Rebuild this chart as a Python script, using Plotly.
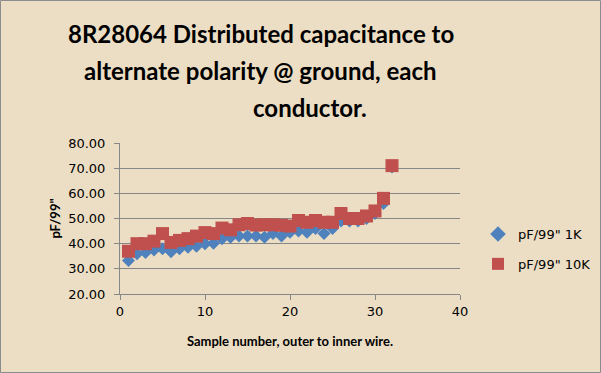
import plotly.graph_objects as go

samples = list(range(1, 33))
pf_1k = [33.3, 36, 36.5, 37.5, 38, 36.8, 38, 38.6, 39, 40, 40.2, 42, 42.5, 43, 43, 43,
         42.5, 44, 43, 44.5, 45, 44.5, 46, 44, 46, 49, 49, 49, 50, 52, 56, 70.5]
pf_10k = [37, 40, 40, 41, 44, 40.5, 41.3, 42, 43, 44.4, 44, 46.2, 45.5, 47.5, 48, 47.4,
          47.5, 47.5, 47.3, 47, 49.2, 48.5, 49.2, 48.5, 48.5, 52, 50, 50, 51, 53, 58, 71]
x_ticks = [0, 10, 20, 30, 40]
y_ticks = [20, 30, 40, 50, 60, 70, 80]

bg = "#ECDEC4"
grid = "#878787"

L, R, T, B = 120, 460, 143, 294
PW, PH = R - L, B - T

fig = go.Figure()
fig.add_trace(go.Scatter(x=samples, y=pf_1k, mode="markers", name='pF/99" 1K',
                         legendgroup="a",
                         marker=dict(symbol="diamond", size=10, color="#4F81BD")))
fig.add_trace(go.Scatter(x=samples, y=pf_10k, mode="markers", name='pF/99" 10K',
                         legendgroup="b",
                         marker=dict(symbol="square", size=13, color="#C0504D")))

title_lines = [("8R28064 Distributed capacitance to", 261, 33),
               ("alternate polarity @ ground, each", 260, 70),
               ("conductor.", 310, 108)]
for txt, cx, cy in title_lines:
    fig.add_annotation(text="<b>" + txt + "</b>", xref="paper", yref="paper",
                       x=(cx - L) / PW, y=1 + (T - cy) / PH,
                       showarrow=False, xanchor="center", yanchor="middle",
                       font=dict(family="Lato", size=24, color="black"))

fig.update_layout(
    width=601, height=373,
    margin=dict(l=L, r=601 - R, t=T, b=373 - B, autoexpand=False),
    paper_bgcolor=bg, plot_bgcolor=bg,
    showlegend=True,
    legend=dict(x=1 + (478 - R) / PW, y=(B - 249) / PH, xanchor="left", yanchor="middle",
                font=dict(family="DejaVu Sans", size=13, color="black"),
                bgcolor="rgba(0,0,0,0)", itemsizing="constant", tracegroupgap=10,
                itemwidth=30),
    xaxis=dict(range=[0, 40], tickvals=x_ticks, showgrid=False, zeroline=False,
               showline=True, linecolor=grid, linewidth=1, ticks="outside",
               ticklen=5, tickcolor=grid, automargin=False,
               tickfont=dict(family="DejaVu Sans", size=13, color="black"),
               title=dict(text="<b>Sample number, outer to inner wire.</b>",
                          font=dict(family="Lato", size=13, color="black"),
                          standoff=19)),
    yaxis=dict(range=[20, 80], tickvals=y_ticks, tickformat=".2f",
               showgrid=True, gridcolor=grid, gridwidth=1, zeroline=False,
               showline=True, linecolor=grid, linewidth=1, ticks="outside",
               ticklen=5, tickcolor=grid, automargin=False, ticklabelstandoff=6,
               tickfont=dict(family="DejaVu Sans", size=13, color="black"),
               title=dict(text='<b>pF/99"</b>',
                          font=dict(family="Lato", size=13, color="black"),
                          standoff=4)),
)
fig.add_shape(type="rect", xref="paper", yref="paper",
              x0=(0.5 - L) / PW, x1=(600.5 - L) / PW,
              y0=(B - 372.5) / PH, y1=1 + (T - 0.5) / PH,
              line=dict(color="#8C8C8C", width=1), fillcolor="rgba(0,0,0,0)")

fig.write_html("out.html", config={"displayModeBar": False},
               post_script="document.body.style.margin='0';")
